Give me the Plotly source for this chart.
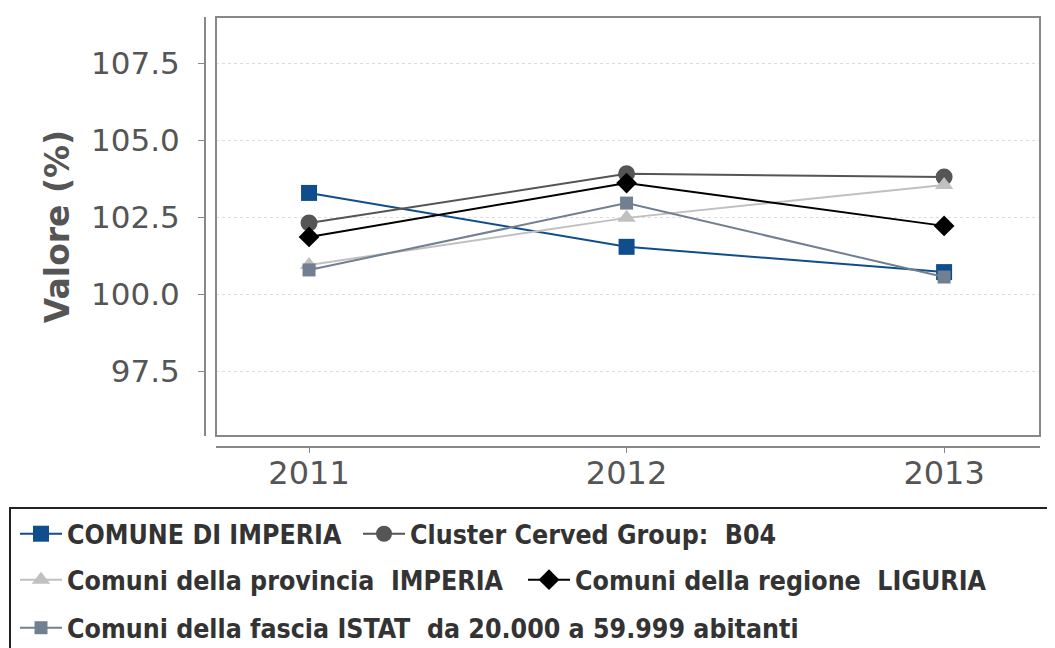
import plotly.graph_objects as go

years = [2011, 2012, 2013]
comune_imperia = [103.29, 101.54, 100.72]
cluster_b04 = [102.31, 103.91, 103.81]
provincia_imperia = [100.95, 102.48, 103.55]
regione_liguria = [101.86, 103.61, 102.22]
fascia_istat = [100.79, 102.96, 100.56]
y_ticks = [97.5, 100.0, 102.5, 105.0, 107.5]

NB = "\u00a0"
series = [
    ("COMUNE DI IMPERIA", comune_imperia, "#104E8B", "square", 16, "legend"),
    ("Cluster Cerved Group:" + NB + NB + "B04", cluster_b04, "#555555", "circle", 17, "legend2"),
    ("Comuni della provincia" + NB + NB + "IMPERIA", provincia_imperia, "#C0C0C0", "triangle-up", 16, "legend3"),
    ("Comuni della regione" + NB + NB + "LIGURIA", regione_liguria, "#000000", "diamond", 16, "legend4"),
    ("Comuni della fascia ISTAT" + NB + NB + "da 20.000 a 59.999 abitanti", fascia_istat, "#708090", "square", 13, "legend5"),
]

fig = go.Figure()
for name, vals, color, sym, size, lg in series:
    fig.add_trace(go.Scatter(
        x=years, y=vals, name=name, mode="lines+markers",
        line=dict(color=color, width=2),
        marker=dict(symbol=sym, size=size, color=color),
        legend=lg,
    ))

OFF = 8  # page body margin
W, H = 1055 - OFF, 648 - OFF
ml = 205 - OFF
mt = 17 - OFF
mr = W - (1040 - OFF)
mb = H - (447 - OFF)
pw = W - ml - mr
ph = H - mt - mb
xdom0 = (216 - 205) / pw
ydom0 = (447 - 436) / ph

def py(pix):
    return (H - mb - (pix - OFF)) / ph

def px(pix):
    return (pix - OFF - ml) / pw

def cy(pix):
    return 1 - (pix - OFF) / H

def cx(pix):
    return (pix - OFF) / W

legend_font = dict(family="DejaVu Sans Condensed", size=26.5, color="#333333", weight="bold")

def leg(xpix, ypix):
    return dict(orientation="h", xanchor="left", yanchor="middle",
                xref="container", yref="container",
                bgcolor="rgba(0,0,0,0)", borderwidth=0, font=legend_font,
                itemwidth=42, x=cx(xpix), y=cy(ypix))

fig.update_layout(
    width=W, height=H,
    margin=dict(l=ml, r=mr, t=mt, b=mb, autoexpand=False),
    paper_bgcolor="white", plot_bgcolor="white",
    showlegend=True,
    legend=leg(15, 534),
    legend2=leg(358, 534),
    legend3=leg(15, 580),
    legend4=leg(523, 580),
    legend5=leg(15, 628),
    xaxis=dict(
        domain=[xdom0, 1], anchor="free", position=0,
        range=[2010.707, 2013.302], tickvals=years, ticktext=[str(y) for y in years],
        showgrid=False, zeroline=False, showline=True, linecolor="#888888", linewidth=2,
        ticks="outside", ticklen=5, tickcolor="#888888", tickwidth=1,
        ticklabelstandoff=-7,
        tickfont=dict(family="DejaVu Sans", size=32, color="#555555"),
    ),
    yaxis=dict(
        domain=[ydom0, 1], anchor="free", position=0,
        range=[95.4, 109.0], tickvals=y_ticks, ticktext=["%.1f" % v for v in y_ticks],
        showgrid=True, gridcolor="#dddddd", griddash="dot", gridwidth=1,
        zeroline=False, showline=True, linecolor="#888888", linewidth=2,
        ticks="outside", ticklen=6, tickcolor="#888888", tickwidth=1,
        ticklabelstandoff=12,
        tickfont=dict(family="DejaVu Sans", size=31, color="#555555"),
        title=dict(text="Valore (%)", standoff=10,
                   font=dict(family="DejaVu Sans", size=33, color="#555555", weight="bold")),
    ),
    shapes=[
        dict(type="rect", xref="paper", yref="paper", x0=xdom0, x1=1, y0=ydom0, y1=1,
             line=dict(color="#888888", width=2), layer="above"),
        dict(type="rect", xref="paper", yref="paper", x0=px(10), x1=px(1065), y0=py(508), y1=py(665),
             line=dict(color="#222222", width=2), layer="above"),
    ],
)

fig.write_html("out.html")
